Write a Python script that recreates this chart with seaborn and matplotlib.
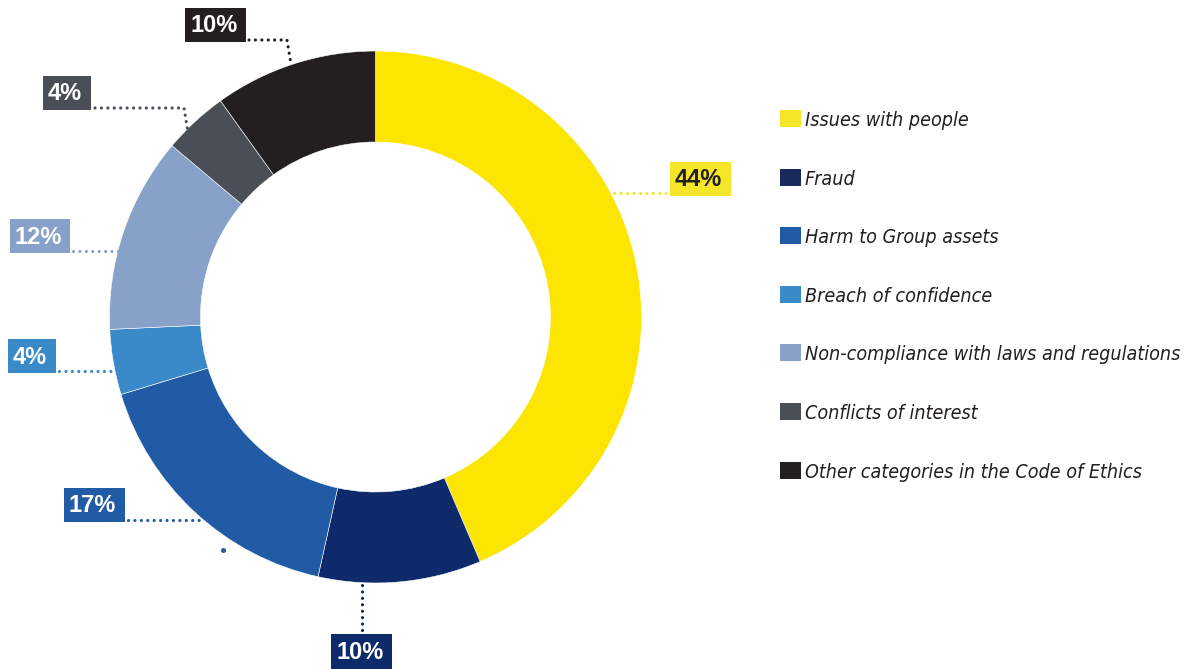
import matplotlib
matplotlib.use("Agg")
import matplotlib.pyplot as plt
from matplotlib.patches import Rectangle
from matplotlib.font_manager import FontProperties, findfont
import numpy as np
import seaborn as sns

# Report categories and their share of cases (%)
categories = [
    "Issues with people",
    "Fraud",
    "Harm to Group assets",
    "Breach of confidence",
    "Non-compliance with laws and regulations",
    "Conflicts of interest",
    "Other categories in the Code of Ethics",
]
shares = [44, 10, 17, 4, 12, 4, 10]
share_labels = ["44%", "10%", "17%", "4%", "12%", "4%", "10%"]

wedge_colors = ["#FCE500", "#0F2A6B", "#215BA6", "#3A89C9", "#87A1C8", "#4A4F57", "#231F20"]
legend_colors = ["#F5E62A", "#1A2A5A", "#215BA6", "#3A89C9", "#87A1C8", "#4A4F57", "#231F20"]
box_colors = ["#F5E62A", "#0F2A6B", "#215BA6", "#3A89C9", "#87A1C8", "#4A4F57", "#231F20"]
label_text_colors = ["#231F20", "white", "white", "white", "white", "white", "white"]

sns.set_theme(style="white")
plt.rcParams["font.family"] = ["Liberation Sans", "DejaVu Sans"]


def narrow_font(style="normal", weight="normal"):
    """Pick a condensed face when one is installed, else the plain one."""
    candidates = [
        ("DejaVu Sans", "condensed"),
        ("DejaVu Sans Condensed", "normal"),
        ("Liberation Sans Narrow", "normal"),
    ]
    for fam, stretch in candidates:
        try:
            path = findfont(FontProperties(family=fam, stretch=stretch, style=style, weight=weight),
                            fallback_to_default=False)
        except Exception:
            continue
        low = path.lower()
        if "condensed" in low or "narrow" in low:
            return path
    return findfont(FontProperties(family="Liberation Sans", style=style, weight=weight))


legend_font = narrow_font(style="italic")

W, H = 1191, 669
fig = plt.figure(figsize=(W / 100, H / 100), dpi=100)
ax = fig.add_axes([0, 0, 1, 1])


def Y(py):
    """Convert a top-down pixel row into the axes' y coordinate."""
    return H - py


cx, cy = 375.5, Y(317)
R, ring = 266, 91

wedges, _ = ax.pie(
    shares,
    colors=wedge_colors,
    startangle=90,
    counterclock=False,
    center=(cx, cy),
    radius=R,
    wedgeprops=dict(width=ring, edgecolor="white", linewidth=0.4),
)
ax.set_xlim(0, W)
ax.set_ylim(0, H)
ax.set_aspect("auto")
ax.axis("off")


def ring_point_h(py, side):
    dy = Y(py) - cy
    dx = np.sqrt(R ** 2 - dy ** 2)
    return (cx + side * dx, Y(py))


def ring_point_v(px):
    dx = px - cx
    dy = np.sqrt(R ** 2 - dx ** 2)
    return (px, cy - dy)


def ring_point_clock(deg):
    """Point on the outer rim, measured clockwise from 12 o'clock."""
    a = np.deg2rad(deg)
    return (cx + R * np.sin(a), cy + R * np.cos(a))


# Label boxes (left, top, width, height in pixel rows) and leader routes
boxes = [
    (670, 162, 61, 34),
    (331, 634, 61, 35),
    (64, 488, 61, 34),
    (8, 339, 48, 34),
    (10, 219, 60, 34),
    (43, 76, 48, 34),
    (185, 8, 61, 34),
]

leaders = [
    [(672, Y(193)), ring_point_h(193, +1)],
    [(362, Y(630)), ring_point_v(362)],
    [(128, Y(520)), ring_point_h(520, -1)],
    [(59, Y(371)), ring_point_h(371, -1)],
    [(73, Y(251)), ring_point_h(251, -1)],
    [(95, Y(108)), (184, Y(108)), ring_point_clock(315)],
    [(249, Y(40)), (287, Y(40)), ring_point_clock(341.5)],
]

for i, (bx, by, bw, bh) in enumerate(boxes):
    ax.add_patch(Rectangle((bx, Y(by + bh)), bw, bh, facecolor=box_colors[i],
                           edgecolor="none", zorder=4))
    ax.text(bx + 5, Y(by + bh / 2) - 1, share_labels[i], ha="left", va="center",
            fontsize=17, fontweight="bold", color=label_text_colors[i], zorder=5)
    pts = np.array(leaders[i])
    ax.plot(pts[:, 0], pts[:, 1], color=box_colors[i],
            linewidth=2.3, linestyle=(0, (0.01, 2.0)), dash_capstyle="round", zorder=3)

# stray dot under the 17% leader
ax.plot([223], [Y(550)], marker="o", markersize=2.6, color=wedge_colors[2], zorder=3)

# Legend: colour keys and italic category names
key_x, key_w, key_h = 780, 21, 17
row0, pitch = 118.5, 58.6
legend_texts = []
for i, (name, col) in enumerate(zip(categories, legend_colors)):
    rc = row0 + i * pitch
    ax.add_patch(Rectangle((key_x, Y(rc + key_h / 2)), key_w, key_h,
                           facecolor=col, edgecolor="none", zorder=4))
    t = ax.text(805, Y(rc), name, ha="left", va="center_baseline",
                fontproperties=FontProperties(fname=legend_font, size=16),
                color="#231F20", zorder=5)
    legend_texts.append(t)

# Fit the legend text to the width it spans
fig.canvas.draw()
renderer = fig.canvas.get_renderer()
longest = legend_texts[4].get_window_extent(renderer).width
leg_size = 16 * 377 / longest
for t in legend_texts:
    t.set_fontsize(leg_size)

fig.savefig("out.png", dpi=100)
